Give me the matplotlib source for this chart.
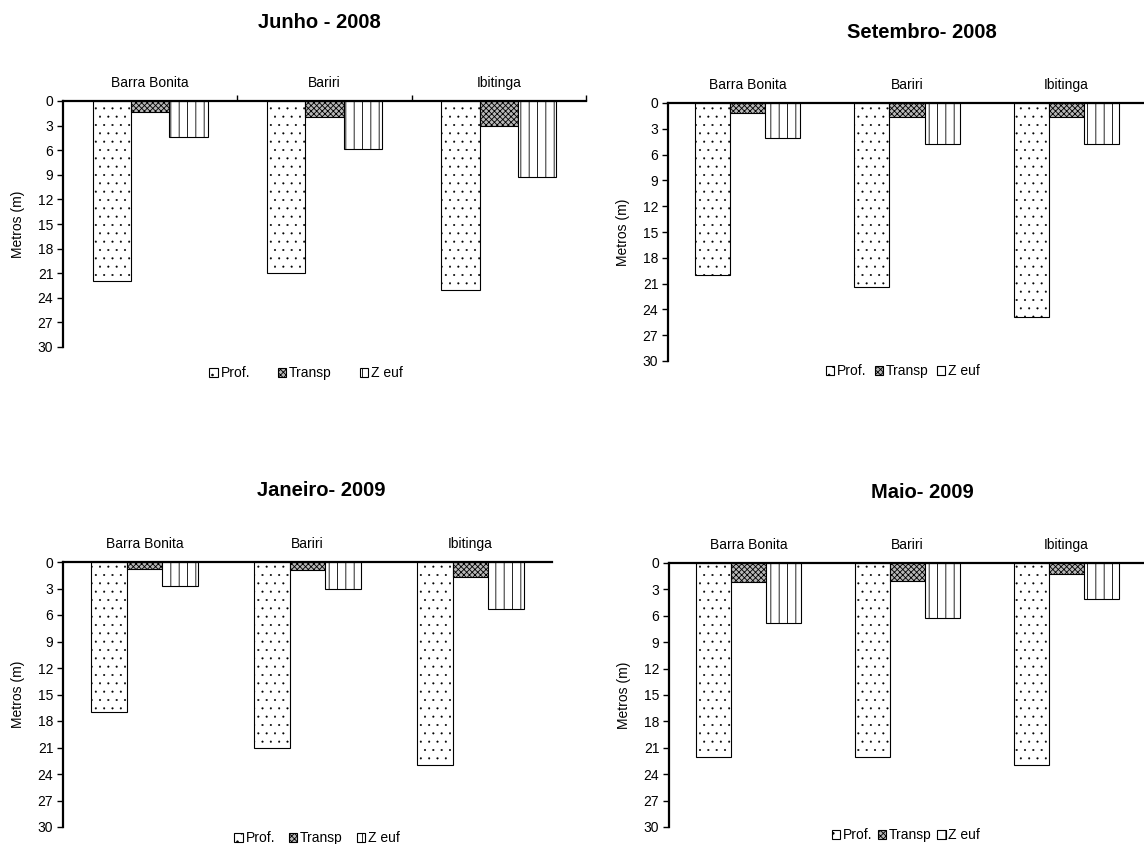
import matplotlib.pyplot as plt
import numpy as np

plt.rcParams["font.family"] = ["Liberation Sans", "DejaVu Sans"]
plt.rcParams["hatch.linewidth"] = 0.6

# ---- data ----
reservatorios = ["Barra Bonita", "Bariri", "Ibitinga"]
series_names = ["Prof.", "Transp", "Z euf"]
titulos = ["Junho - 2008", "Setembro- 2008", "Janeiro- 2009", "Maio- 2009"]

prof_jun08 = [22.0, 21.0, 23.0]
transp_jun08 = [1.4, 2.0, 3.1]
zeuf_jun08 = [4.4, 5.8, 9.3]

prof_set08 = [20.0, 21.4, 24.9]
transp_set08 = [1.2, 1.6, 1.6]
zeuf_set08 = [4.1, 4.8, 4.8]

prof_jan09 = [17.0, 21.0, 23.0]
transp_jan09 = [0.8, 0.9, 1.7]
zeuf_jan09 = [2.7, 3.0, 5.3]

prof_mai09 = [22.0, 22.0, 22.9]
transp_mai09 = [2.2, 2.1, 1.3]
zeuf_mai09 = [6.8, 6.3, 4.1]

dados = [
    (prof_jun08, transp_jun08, zeuf_jun08),
    (prof_set08, transp_set08, zeuf_set08),
    (prof_jan09, transp_jan09, zeuf_jan09),
    (prof_mai09, transp_mai09, zeuf_mai09),
]

# ---- layout (pixels) ----
W, H = 1144, 844
# axes box: left, top, right, bottom
boxes = [(63, 101, 586, 347), (668, 103, 1146, 361),
         (63, 562, 552, 827), (669, 563, 1146, 827)]
title_pos = [(319, 23), (922, 32), (321, 490), (922, 492)]
legend_pos = [(306, 373), (903, 371), (317, 838), (906, 835)]
legend_colsp = [2.0, 0.6, 1.0, 0.4]
boundary_ticks = [True, False, False, False]

styles = [
    dict(facecolor="white", hatch=".."),
    dict(facecolor="#b8b8b8", hatch="xxxxxx"),
    dict(facecolor="white", hatch="||"),
]
hatch_lw = [0.25, 0.6, 0.6]

fig = plt.figure(figsize=(W / 100, H / 100), dpi=100)

x = np.arange(len(reservatorios))
w = 0.22

for i in range(4):
    l, t, r, b = boxes[i]
    ax = fig.add_axes([l / W, 1 - b / H, (r - l) / W, (b - t) / H])

    for k, vals in enumerate(dados[i]):
        with plt.rc_context({"hatch.linewidth": hatch_lw[k]}):
            ax.bar(x + (k - 1) * w, vals, w, edgecolor="black", linewidth=0.8,
                   label=series_names[k], **styles[k])

    ax.set_xlim(-0.5, 2.5)
    ax.set_ylim(30, 0)
    ax.set_yticks(np.arange(0, 31, 3))

    ax.spines["bottom"].set_visible(False)
    ax.spines["right"].set_visible(False)
    ax.spines["top"].set_linewidth(1.6)
    ax.spines["left"].set_linewidth(1.6)

    # category names sit above the zero line
    ax.xaxis.tick_top()
    if boundary_ticks[i]:
        ax.set_xticks([0.5, 1.5, 2.5])
    else:
        ax.set_xticks([])
    ax.set_xticks(x, reservatorios, minor=True)
    ax.tick_params(axis="x", which="major", length=4, width=1,
                   labeltop=False)
    ax.tick_params(axis="x", which="minor", length=0, pad=8, labelsize=10)
    ax.tick_params(axis="y", direction="out", length=4, width=1,
                   labelsize=10, pad=3)

    fig.text(title_pos[i][0] / W, 1 - title_pos[i][1] / H, titulos[i],
             ha="center", va="center", fontsize=14.5, fontweight="bold")
    fig.text((l - 45) / W, 1 - (t + b) / 2 / H, "Metros (m)", rotation=90,
             ha="center", va="center", fontsize=10)

    ax.legend(loc="center", ncol=3, frameon=False, fontsize=10,
              bbox_to_anchor=(legend_pos[i][0] / W, 1 - legend_pos[i][1] / H),
              bbox_transform=fig.transFigure, handlelength=0.6,
              handleheight=0.6, handletextpad=0.2,
              columnspacing=legend_colsp[i], borderpad=0)

fig.savefig("out.png", dpi=100)
